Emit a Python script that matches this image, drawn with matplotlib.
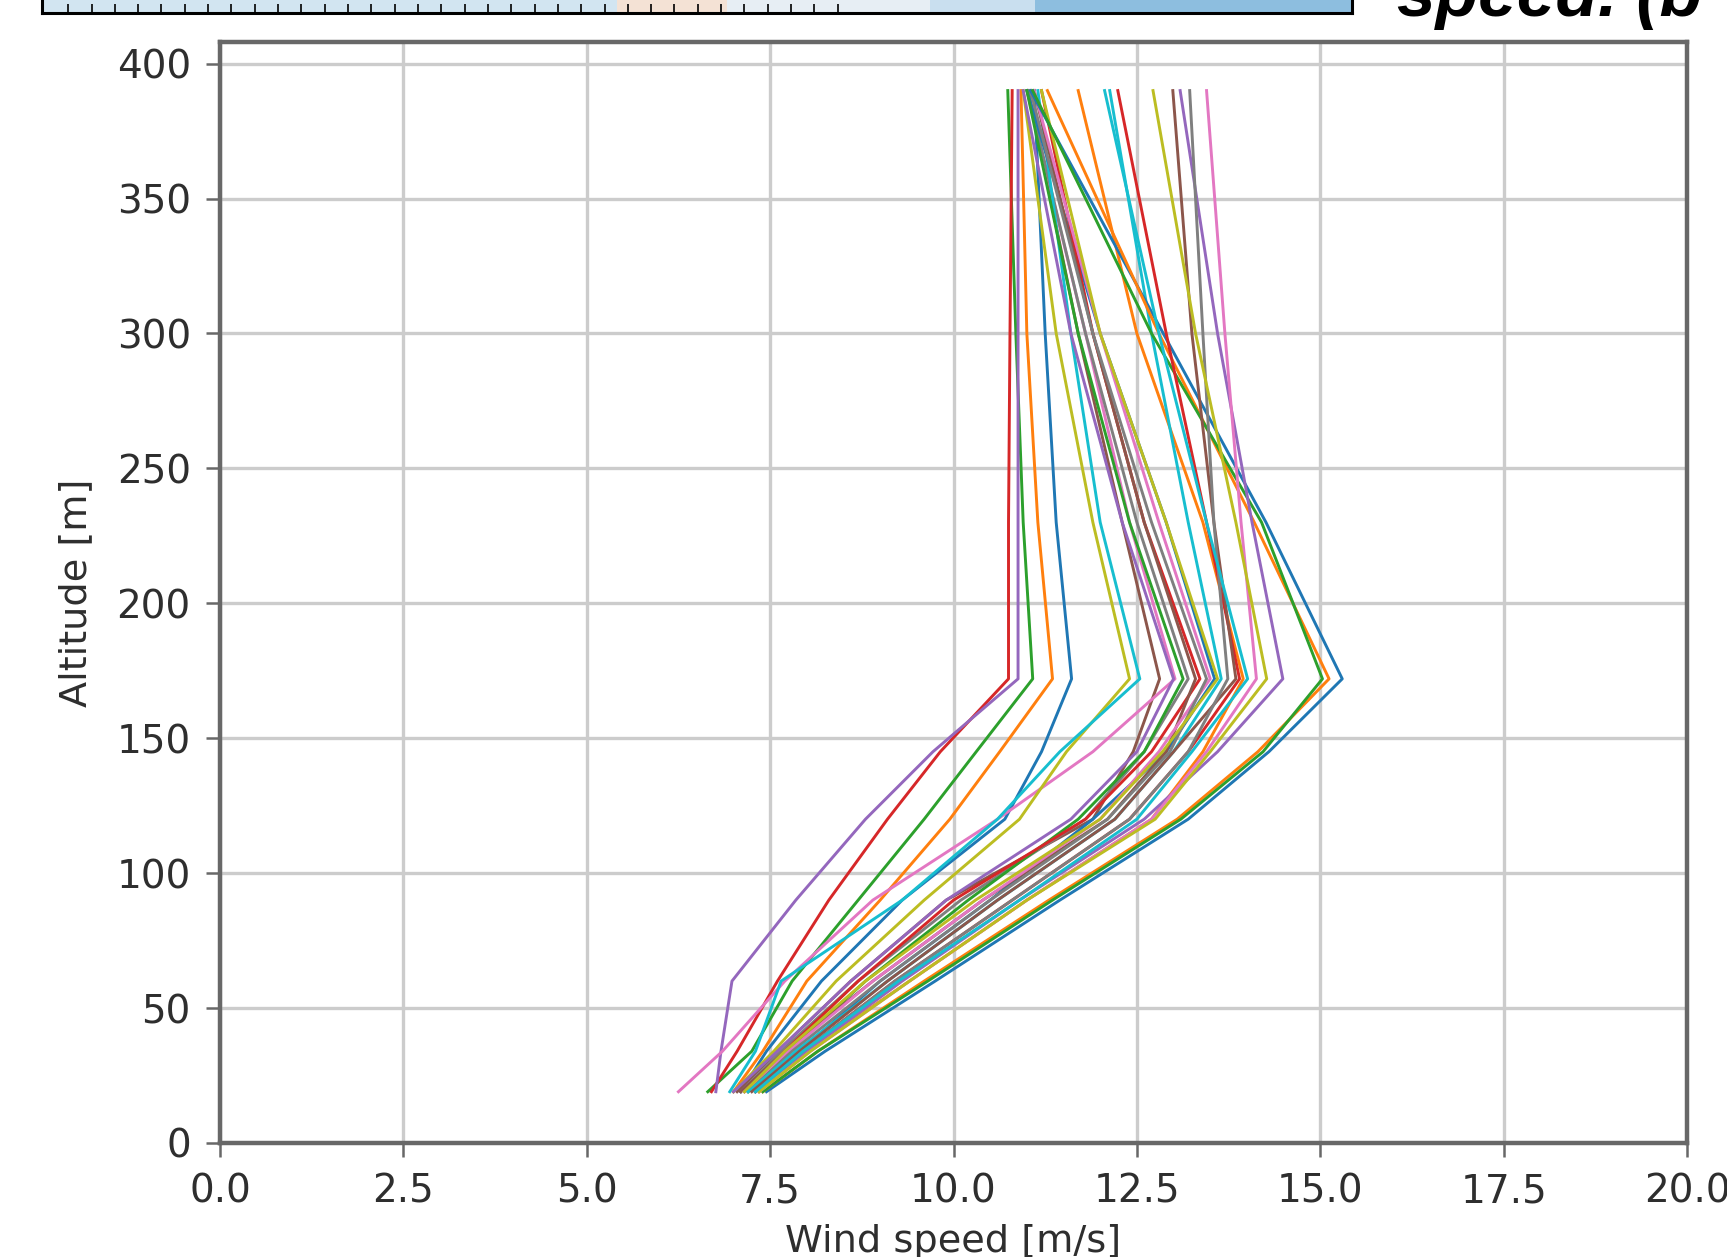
import matplotlib
matplotlib.use("Agg")
import matplotlib.pyplot as plt

# ---------------- data ----------------
altitude_m = [19, 34, 60, 90, 120, 145, 172, 230, 300, 390]

# wind-speed profiles [m/s] at the altitudes above (tab10 colour cycle order)
profile_00 = [7.10, 7.45, 8.20, 9.30, 10.70, 11.20, 11.61, 11.40, 11.25, 11.10]
profile_01 = [7.00, 7.40, 8.00, 9.00, 9.95, 10.63, 11.35, 11.15, 11.00, 10.92]
profile_02 = [6.65, 7.25, 7.80, 8.70, 9.60, 10.31, 11.08, 10.95, 10.85, 10.74]
profile_03 = [6.70, 7.05, 7.60, 8.30, 9.10, 9.82, 10.75, 10.75, 10.77, 10.80]
profile_04 = [6.76, 6.83, 6.98, 7.85, 8.80, 9.72, 10.88, 10.88, 10.88, 10.88]
profile_05 = [7.05, 7.60, 8.60, 9.90, 11.90, 12.45, 12.81, 12.30, 11.70, 11.02]
profile_06 = [6.25, 6.85, 7.70, 8.90, 10.60, 11.90, 13.02, 12.40, 11.80, 11.00]
profile_07 = [7.10, 7.65, 8.70, 10.10, 11.80, 12.60, 13.20, 12.50, 11.80, 11.01]
profile_08 = [7.00, 7.55, 8.40, 9.60, 10.90, 11.54, 12.40, 11.90, 11.40, 10.95]
profile_09 = [6.95, 7.30, 7.65, 9.30, 10.60, 11.45, 12.54, 12.00, 11.60, 11.15]
profile_10 = [7.30, 7.90, 9.00, 10.50, 11.90, 12.90, 13.56, 12.90, 12.00, 11.00]
profile_11 = [7.35, 8.00, 9.40, 11.00, 12.70, 13.40, 13.95, 13.40, 12.50, 11.70]
profile_12 = [7.20, 7.75, 8.80, 10.20, 11.70, 12.60, 13.13, 12.40, 11.70, 11.00]
profile_13 = [7.15, 7.70, 8.70, 10.00, 11.80, 12.70, 13.36, 12.60, 11.90, 11.20]
profile_14 = [7.00, 7.60, 8.60, 9.90, 11.60, 12.50, 13.00, 12.30, 11.60, 10.95]
profile_15 = [7.10, 7.70, 8.90, 10.40, 12.10, 12.90, 13.30, 12.60, 11.90, 11.10]
profile_16 = [7.15, 7.75, 8.90, 10.40, 12.00, 12.80, 13.50, 12.80, 12.00, 11.10]
profile_17 = [7.20, 7.80, 9.00, 10.50, 12.10, 12.95, 13.45, 12.70, 11.90, 11.05]
profile_18 = [7.15, 7.70, 8.80, 10.30, 12.00, 12.85, 13.60, 12.90, 12.00, 11.20]
profile_19 = [7.20, 7.85, 9.10, 10.60, 12.20, 13.00, 13.65, 13.20, 12.70, 12.13]
profile_20 = [7.45, 8.25, 9.75, 11.45, 13.20, 14.30, 15.30, 14.26, 12.86, 11.05]
profile_21 = [7.40, 8.15, 9.60, 11.30, 13.05, 14.15, 15.12, 14.10, 12.80, 11.28]
profile_22 = [7.40, 8.15, 9.65, 11.35, 13.10, 14.22, 15.03, 14.20, 12.70, 11.08]
profile_23 = [7.30, 7.95, 9.20, 10.80, 12.40, 13.20, 13.90, 13.45, 12.90, 12.24]
profile_24 = [7.30, 8.00, 9.30, 10.90, 12.60, 13.60, 14.49, 14.07, 13.60, 13.09]
profile_25 = [7.25, 7.90, 9.10, 10.60, 12.20, 13.00, 13.85, 13.55, 13.25, 12.99]
profile_26 = [7.35, 8.05, 9.40, 11.00, 12.70, 13.45, 14.13, 13.92, 13.70, 13.45]
profile_27 = [7.30, 7.95, 9.20, 10.80, 12.40, 13.20, 13.74, 13.55, 13.40, 13.22]
profile_28 = [7.35, 8.05, 9.40, 11.00, 12.75, 13.50, 14.27, 13.85, 13.30, 12.72]
profile_29 = [7.30, 7.95, 9.25, 10.90, 12.50, 13.25, 14.01, 13.45, 12.80, 12.06]

wind_profiles = [
    profile_00, profile_01, profile_02, profile_03, profile_04,
    profile_05, profile_06, profile_07, profile_08, profile_09,
    profile_10, profile_11, profile_12, profile_13, profile_14,
    profile_15, profile_16, profile_17, profile_18, profile_19,
    profile_20, profile_21, profile_22, profile_23, profile_24,
    profile_25, profile_26, profile_27, profile_28, profile_29,
]

x_ticks = [0.0, 2.5, 5.0, 7.5, 10.0, 12.5, 15.0, 17.5, 20.0]
y_ticks = [0, 50, 100, 150, 200, 250, 300, 350, 400]
x_label = "Wind speed [m/s]"
y_label = "Altitude [m]"
caption_fragment = "speed. (b"

# decorative strip (cropped part of the figure above)
strip_edges = [0.0, 0.4387, 0.5227, 0.678, 0.758, 1.0]
strip_colors = ["#d2e5f1", "#f4e2d5", "#e7eef4", "#c9dfef", "#8dbedf"]
barb_positions = [0.02 + 0.0178 * k for k in range(34)]

# ---------------- figure ----------------
W, H = 1727, 1257
fig = plt.figure(figsize=(W / 100, H / 100), dpi=100)
fig.patch.set_facecolor("white")

ax = fig.add_axes([220 / W, 1 - 1143 / H, (1687 - 220) / W, (1143 - 42) / H])
tab10 = plt.get_cmap("tab10").colors
for i, prof in enumerate(wind_profiles):
    ax.plot(prof, altitude_m, color=tab10[i % 10], lw=2.1, zorder=3)

ax.set_xlim(0, 20)
ax.set_ylim(0, 408)
ax.set_xticks(x_ticks)
ax.set_yticks(y_ticks)
ax.set_xticklabels([f"{v:.1f}" for v in x_ticks])
ax.set_yticklabels([str(v) for v in y_ticks])
ax.grid(True, color="#cccccc", lw=2.4, zorder=0)
ax.set_axisbelow(True)
for sp in ax.spines.values():
    sp.set_color("#686868")
    sp.set_linewidth(3.2)
ax.tick_params(axis="both", direction="out", length=10, width=1.8,
               color="#686868", labelsize=28, labelcolor="#2e2e2e", pad=11)
ax.set_xlabel(x_label, fontsize=27.5, color="#2e2e2e", labelpad=10)
ax.set_ylabel(y_label, fontsize=27.5, color="#2e2e2e", labelpad=16)

# cropped strip at the top
sax = fig.add_axes([42 / W, 1 - 13 / H, 1310 / W, 0.03])
for j, c in enumerate(strip_colors):
    sax.axvspan(strip_edges[j], strip_edges[j + 1], color=c, lw=0)
sax.plot(barb_positions, [0.12] * len(barb_positions), ls="none",
         marker="|", ms=6, mew=1.2, color="black")
sax.set_xlim(0, 1)
sax.set_ylim(0, 1)
sax.set_xticks([])
sax.set_yticks([])
for sp in sax.spines.values():
    sp.set_color("black")
    sp.set_linewidth(2.2)

fig.text(1397 / W, 1 - 16 / H, caption_fragment, ha="left", va="baseline",
         fontsize=50, fontweight="bold", fontstyle="italic",
         family="Liberation Sans", color="black")

fig.savefig("out.png", dpi=100, facecolor="white")
